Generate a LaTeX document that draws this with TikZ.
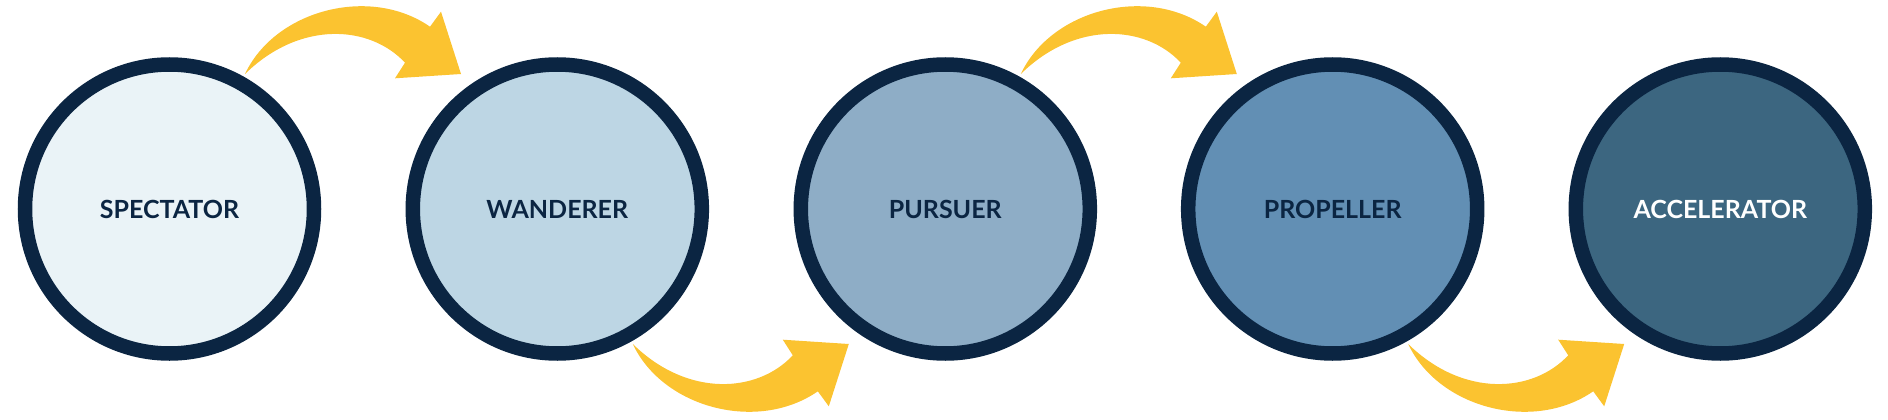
\documentclass[tikz,border=0pt]{standalone}
\usepackage{fontspec}
\setmainfont{Lato}
\definecolor{ring}{HTML}{0B2542}
\definecolor{arrowc}{HTML}{FBC330}
\definecolor{fa}{HTML}{EAF3F7}
\definecolor{fb}{HTML}{BDD6E4}
\definecolor{fc}{HTML}{8EADC6}
\definecolor{fd}{HTML}{628FB4}
\definecolor{fe}{HTML}{3C6680}
\tikzset{
  stage/.style={circle, draw=ring, line width=14.5pt, inner sep=0pt,
    minimum size=289pt, text=ring, font=\fontsize{25}{30}\selectfont\bfseries},
  bigarrow/.style={fill=arrowc, draw=none},
}
\newcommand{\arrowshape}{%
  (75.5,-135) .. controls (105.5,-199) and (200.5,-224) .. (260.5,-182.3)
  -- (271.5,-197.3) -- (291.5,-135) -- (225.5,-130.7) -- (235.5,-146.3)
  .. controls (200.5,-184) and (130.5,-189) .. (75.5,-135) -- cycle}
\begin{document}
\begin{tikzpicture}[x=1pt,y=-1pt]
\useasboundingbox (0,0) rectangle (1888,420);
\node[stage, fill=fa] (s1) at (169.5,209) {SPECTATOR};
\node[stage, fill=fb] (s2) at (557.3,209) {WANDERER};
\node[stage, fill=fc] (s3) at (945.3,209) {PURSUER};
\node[stage, fill=fd] (s4) at (1332.7,209) {PROPELLER};
\node[stage, fill=fe, text=white] (s5) at (1720.3,209) {ACCELERATOR};
\begin{scope}[shift={(s1.center)}]
  \fill[bigarrow] \arrowshape;
\end{scope}
\begin{scope}[shift={(s2.center)}, yscale=-1]
  \fill[bigarrow] \arrowshape;
\end{scope}
\begin{scope}[shift={(s3.center)}]
  \fill[bigarrow] \arrowshape;
\end{scope}
\begin{scope}[shift={(s4.center)}, yscale=-1]
  \fill[bigarrow] \arrowshape;
\end{scope}
\end{tikzpicture}
\end{document}
